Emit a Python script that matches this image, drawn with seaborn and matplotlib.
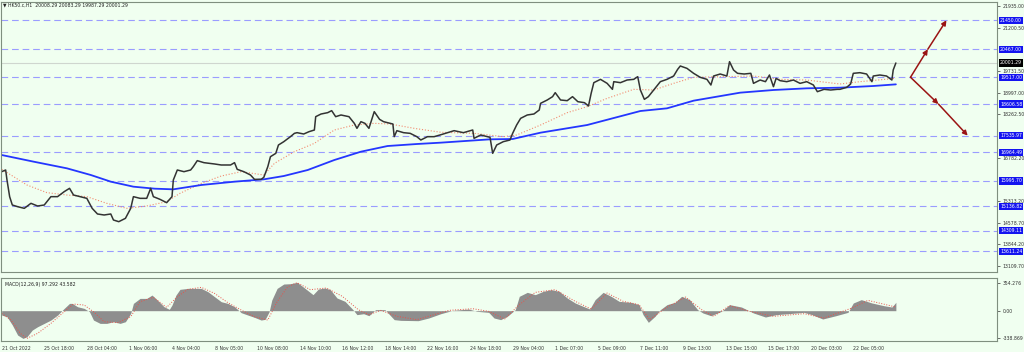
import matplotlib
matplotlib.use('Agg')
import matplotlib.pyplot as plt
import seaborn as sns

# H1 bars (bar index -> close)
price_bar = [0, 3, 4, 6, 8, 12, 17, 22, 27, 32, 37, 42, 47, 51, 54, 59, 64, 68, 72, 77, 82, 84, 88, 93, 97, 99,
             104, 109, 112, 114, 119, 124, 128, 129, 132, 137, 142, 144, 147, 152, 160, 165, 172, 175, 177, 182,
             187, 190, 195, 197, 200, 202, 206, 208, 212, 217, 220, 222, 227, 231, 235, 236, 240, 245, 248, 251,
             255, 261, 265, 267, 270, 273, 276, 280, 284, 287, 292, 294, 295, 297, 302, 307, 312, 315, 320, 325,
             330, 340, 347, 354, 355, 360, 367, 369, 372, 377, 382, 384, 387, 390, 395, 400, 404, 405, 410, 414,
             416, 420, 425, 429, 433, 438, 441, 443, 445, 450, 455, 459, 460, 465, 470, 475, 478, 480, 483, 486,
             490, 495, 500, 505, 508, 510, 515, 520, 525, 530, 533, 535, 540, 545, 547, 550, 553, 558, 563, 565,
             570, 574, 577, 580, 582, 585, 590, 595, 600, 605, 610, 613, 618, 623, 628, 630, 635, 638, 640, 645,
             650, 654, 655, 660, 665, 669, 670, 672]
price_close = [16312, 16369, 16030, 15464, 15181, 15124, 15068, 15238, 15147, 15181, 15464, 15464, 15634, 15747,
               15520, 15464, 15407, 15068, 14876, 14842, 14876, 14672, 14615, 14728, 15068, 15464, 15407, 15407,
               15747, 15464, 15373, 15260, 15464, 16030, 16369, 16312, 16369, 16482, 16686, 16618, 16573, 16539,
               16539, 16618, 16392, 16312, 16199, 16052, 16052, 16120, 16482, 16821, 16934, 17217, 17330, 17500,
               17613, 17636, 17591, 17670, 17726, 18179, 18269, 18315, 18383, 18179, 18236, 18179, 17953, 17783,
               18009, 17953, 17783, 18349, 18088, 18009, 17953, 17930, 17500, 17704, 17636, 17613, 17500, 17387,
               17500, 17500, 17565, 17704, 17636, 17727, 17444, 17557, 17478, 16935, 17217, 17331, 17387, 17613,
               17896, 18122, 18236, 18270, 18405, 18632, 18745, 18858, 18994, 18745, 18722, 18858, 18688, 18654,
               18541, 18971, 19333, 19446, 19310, 19107, 19367, 19333, 19423, 19446, 19537, 19084, 18767, 18858,
               19084, 19367, 19446, 19559, 19785, 19899, 19819, 19650, 19514, 19446, 19254, 19559, 19627, 19559,
               20046, 19763, 19650, 19627, 19650, 19310, 19423, 19367, 19593, 19197, 19480, 19401, 19367, 19423,
               19310, 19367, 19254, 19027, 19107, 19084, 19107, 19107, 19174, 19288, 19650, 19672, 19627, 19367,
               19559, 19593, 19559, 19423, 19763, 20001]

# moving averages
ma_slow_bar = [0, 24, 49, 67, 82, 99, 115, 129, 150, 175, 197, 212, 230, 250, 270, 290, 312, 330, 367, 384, 405,
               440, 480, 500, 520, 555, 580, 605, 630, 655, 672]
ma_slow = [16878, 16652, 16426, 16199, 15973, 15803, 15735, 15713, 15860, 15973, 16052, 16165, 16369, 16708,
           16991, 17183, 17251, 17297, 17410, 17421, 17636, 17896, 18371, 18462, 18722, 18994, 19084, 19141,
           19163, 19220, 19276]
ma_fast_bar = [0, 9, 19, 34, 49, 64, 79, 94, 109, 124, 134, 150, 165, 180, 197, 205, 220, 235, 250, 265, 280, 292,
               310, 330, 355, 377, 387, 405, 425, 440, 455, 475, 490, 505, 520, 543, 565, 585, 605, 630, 645, 672]
ma_fast = [16392, 16143, 15860, 15600, 15520, 15464, 15238, 15068, 15147, 15294, 15577, 15916, 16165, 16312,
           16199, 16595, 16991, 17274, 17726, 17896, 17953, 17930, 17783, 17650, 17613, 17500, 17557, 17896,
           18315, 18518, 18801, 19107, 19084, 19310, 19514, 19537, 19559, 19446, 19423, 19288, 19367, 19480]

# MACD(12,26,9)
macd_bar = [0, 4, 8, 12, 16, 19, 23, 27, 32, 37, 42, 47, 51, 53, 57, 62, 66, 69, 74, 79, 84, 89, 93, 97, 99, 104,
            109, 113, 117, 122, 126, 128, 131, 134, 140, 144, 150, 155, 160, 165, 170, 175, 180, 185, 190, 195,
            198, 201, 203, 207, 212, 217, 222, 226, 234, 238, 243, 247, 252, 258, 264, 267, 272, 276, 281, 288,
            295, 300, 313, 321, 330, 339, 351, 357, 366, 370, 375, 380, 386, 389, 395, 401, 407, 413, 419, 425,
            431, 437, 442, 446, 452, 458, 464, 473, 479, 482, 486, 491, 495, 500, 506, 511, 517, 523, 527, 533,
            541, 547, 556, 565, 574, 582, 591, 603, 609, 617, 627, 636, 640, 646, 654, 663, 669, 672]
macd_hist = [-55, -76, -180, -307, -349, -328, -244, -202, -160, -118, -55, 29, 92, 92, 50, 29, -13, -118, -160,
             -160, -139, -160, -139, -34, 92, 155, 155, 197, 134, 50, 17, 71, 197, 269, 281, 281, 281, 239, 176,
             113, 92, 50, -25, -55, -84, -118, -109, -13, 134, 281, 336, 340, 357, 307, 202, 273, 286, 265, 160,
             118, 13, -50, -38, -63, 13, 13, -113, -122, -126, -92, -38, 4, 21, -8, -21, -92, -113, -71, 13, 181,
             231, 202, 244, 265, 244, 160, 97, 55, 21, 139, 231, 181, 118, 105, 76, -50, -147, -71, 13, 76, 105,
             181, 139, 13, -29, -63, -8, 76, 46, -29, -80, -50, -38, -21, -50, -105, -63, -21, 97, 139, 97, 63,
             46, 105]
signal_bar = [0, 7, 14, 19, 27, 37, 47, 54, 62, 69, 77, 87, 97, 104, 114, 124, 132, 140, 150, 160, 170, 180, 190,
              200, 207, 215, 222, 232, 244, 256, 268, 276, 285, 297, 312, 336, 354, 366, 378, 389, 401, 416, 431,
              443, 455, 467, 479, 487, 499, 514, 526, 535, 547, 562, 580, 603, 618, 639, 651, 672]
signal = [-34, -118, -286, -349, -286, -160, -13, 84, 71, -13, -139, -151, -76, 113, 168, 42, 176, 269, 294, 218,
          101, 8, -76, -118, 113, 302, 353, 265, 286, 181, 13, -50, 4, -71, -113, 4, 25, -8, -105, 76, 231, 265,
          118, 21, 223, 118, 76, -113, 34, 172, 13, -71, 63, -8, -71, -38, -92, 34, 130, 46]

# horizontal levels and price-axis labels
levels = [21450.00, 20467.00, 19517.00, 18606.58, 17535.97, 16964.49, 15995.70, 15136.82, 14309.11, 13611.24]
last_price = 20001.29
price_ticks = [21935.00, 21200.50, 19731.50, 18997.00, 18262.50, 16782.20, 15313.20, 14578.70, 13844.20, 13109.70]
macd_ticks = [354.276, 0.0, -338.869]
macd_tick_labels = ['354.276', '0.00', '-338.869']

time_ticks = list(range(0, 672, 32))
time_labels = ['21 Oct 2022', '25 Oct 18:00', '28 Oct 04:00', '1 Nov 06:00', '4 Nov 04:00', '8 Nov 05:00',
               '10 Nov 08:00', '14 Nov 10:00', '16 Nov 12:00', '18 Nov 14:00', '22 Nov 16:00', '24 Nov 18:00',
               '29 Nov 04:00', '1 Dec 07:00', '5 Dec 09:00', '7 Dec 11:00', '9 Dec 13:00', '13 Dec 15:00',
               '15 Dec 17:00', '20 Dec 03:00', '22 Dec 05:00']

# projection arrows: start -> middle target -> final target
up_path_bar = [683, 696, 710]
up_path = [19517.00, 20467.00, 21450.00]
down_path_bar = [683, 704, 726]
down_path = [19517.00, 18606.58, 17535.97]

bg = '#f0fff0'
sns.set_style('white', {'axes.facecolor': bg, 'figure.facecolor': bg})
plt.rcParams['font.family'] = ['DejaVu Sans']

fig = plt.figure(figsize=(10.24, 3.52), dpi=100)
W, H = 1024, 352
ax = fig.add_axes([1 / W, 1 - 272 / H, 996 / W, 270 / H])
ax2 = fig.add_axes([1 / W, 1 - 341 / H, 996 / W, 63 / H])

for a in (ax, ax2):
    a.set_facecolor(bg)
    a.set_xlim(-0.5, 748)
    for s in a.spines.values():
        s.set_color('#7f8f7f')
        s.set_linewidth(0.8)

# levels
for lv in levels:
    ax.axhline(lv, color='#9a9cff', lw=0.8, ls=(0, (6, 3.5)), zorder=1)
    ax.text(1.003, lv, f'{lv:.2f}', transform=ax.get_yaxis_transform(), fontsize=3.3, color='white',
            va='center', ha='left', clip_on=False,
            bbox=dict(boxstyle='square,pad=0.25', fc='#1414f0', ec='none'))
ax.axhline(last_price, color='#cfd6cf', lw=0.8, zorder=1)
ax.text(1.003, last_price, f'{last_price:.2f}', transform=ax.get_yaxis_transform(), fontsize=3.3,
        color='white', va='center', ha='left', clip_on=False,
        bbox=dict(boxstyle='square,pad=0.25', fc='black', ec='none'))

sns.lineplot(x=ma_fast_bar, y=ma_fast, ax=ax, color='#f28a70', lw=0.8, ls=':', estimator=None)
sns.lineplot(x=ma_slow_bar, y=ma_slow, ax=ax, color='#2436ff', lw=1.3, estimator=None)
sns.lineplot(x=price_bar, y=price_close, ax=ax, color='#333333', lw=1.1, estimator=None)

for path_bar, path in ((up_path_bar, up_path), (down_path_bar, down_path)):
    for i in range(len(path) - 1):
        ax.annotate('', xy=(path_bar[i + 1], path[i + 1]), xytext=(path_bar[i], path[i]),
                    arrowprops=dict(arrowstyle='-|>', color='#9a1414', lw=1.1,
                                    mutation_scale=7, shrinkA=0, shrinkB=0))

ax.set_ylim(12907, 22071)
ax.yaxis.tick_right()
ax.set_yticks(price_ticks)
ax.set_yticklabels([f'{t:.2f}' for t in price_ticks])
ax.tick_params(axis='y', length=2, pad=2, labelsize=3.3, colors='#333333', width=0.5)
ax.set_xticks([])
ax.set_xlabel('')
ax.set_ylabel('')

# MACD panel
ax2.fill_between(macd_bar, macd_hist, 0, color='#8e8e8e', lw=0)
sns.lineplot(x=signal_bar, y=signal, ax=ax2, color='#e8524a', lw=0.7, ls=':', estimator=None)
ax2.set_ylim(-382, 412)
ax2.yaxis.tick_right()
ax2.set_yticks(macd_ticks)
ax2.set_yticklabels(macd_tick_labels)
ax2.tick_params(axis='y', length=2, pad=2, labelsize=3.3, colors='#333333', width=0.5)
ax2.set_xticks(time_ticks)
ax2.set_xticklabels(time_labels, ha='left')
ax2.tick_params(axis='x', length=2, pad=1.5, labelsize=3.3, colors='#333333', width=0.5)
ax2.set_xlabel('')
ax2.set_ylabel('')
ax2.text(0.004, 0.93, 'MACD(12,26,9) 97.292 43.582', transform=ax2.transAxes, fontsize=3.3,
         color='#222222', va='top', ha='left')

fig.text(3 / W, 1 - 5 / H, '\u25bc HK50.c,H1  20008.29 20083.29 19987.29 20001.29', fontsize=3.3,
         color='#222222', va='center', ha='left')

fig.savefig('out.png', dpi=100, facecolor=bg)
